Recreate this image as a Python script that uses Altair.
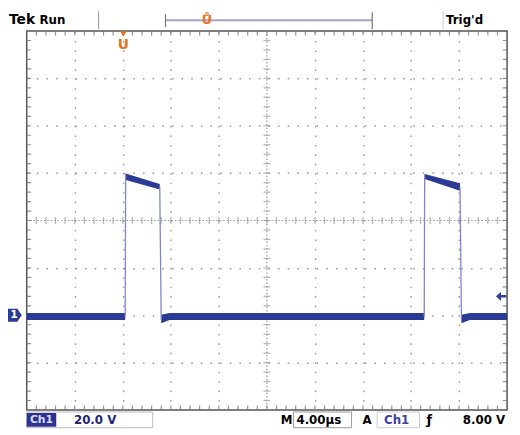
import altair as alt
import pandas as pd

# ---- waveform data (time in µs, volts; ground = 0 V, 4 µs/div, 20 V/div) ----
band_seg = ["b1", "b1", "p1", "p1", "b2", "b2", "b2", "p2", "p2", "b3", "b3", "b3"]
band_t   = [0.0, 8.20, 8.24, 11.08, 11.20, 11.9, 33.10, 33.14, 36.08, 36.20, 36.9, 40.0]
band_hi  = [1.0, 1.0, 59.8, 55.4, 0.2, 1.0, 1.0, 59.6, 55.7, 0.2, 1.0, 1.0]
band_lo  = [-2.0, -2.0, 57.1, 53.1, -3.4, -2.0, -2.0, 57.5, 52.6, -3.4, -2.0, -2.0]

edge_id = ["r1", "r1", "f1", "f1", "r2", "r2", "f2", "f2"]
edge_t  = [8.20, 8.24, 11.08, 11.20, 33.10, 33.14, 36.08, 36.20]
edge_v  = [-0.5, 59.5, 54.0, -2.0, -0.5, 59.5, 54.0, -2.0]

# graticule
major_t = [4, 8, 12, 16, 24, 28, 32, 36]
major_v = [-20, 0, 20, 60, 80, 100]
minor_t = [round(i * 0.8, 2) for i in range(1, 50)]
minor_v = [round(-40 + i * 4, 2) for i in range(1, 40)]
center_t = 20
center_v = 40
trig_level = 8.0
trig_time = 8.05

W, H = 488, 385
X0, Y0 = 27, 28  # page position of plot origin

xs = alt.Scale(domain=[0, 40], nice=False, zero=False)
ys = alt.Scale(domain=[-40, 120], nice=False, zero=False)

TRACE = "#2b3a94"
EDGE = "#7d86c8"
GRID = "#9a9a9a"
ORANGE = "#e8741e"
FONT = "DejaVu Sans"

band = pd.DataFrame({"seg": band_seg, "t": band_t, "hi": band_hi, "lo": band_lo})
edges = pd.DataFrame({"id": edge_id, "t": edge_t, "v": edge_v})

base_grid = alt.Chart(pd.DataFrame({"t": [0], "v": [0]})).mark_point(opacity=0).encode(
    x=alt.X("t:Q", scale=xs, axis=alt.Axis(values=major_t, grid=True, gridColor=GRID,
                                          gridDash=[1.6, 8.0], gridWidth=1.4, labels=False,
                                          ticks=False, domain=False, title=None)),
    y=alt.Y("v:Q", scale=ys, axis=alt.Axis(values=major_v, grid=True, gridColor=GRID,
                                          gridDash=[1.6, 8.2], gridWidth=1.4, labels=False,
                                          ticks=False, domain=False, title=None)),
)

center_x = alt.Chart(pd.DataFrame({"t": [center_t]})).mark_rule(
    color=GRID, strokeDash=[1.5, 2.0], strokeWidth=1.2).encode(x="t:Q")
center_y = alt.Chart(pd.DataFrame({"v": [center_v]})).mark_rule(
    color=GRID, strokeDash=[1.5, 2.0], strokeWidth=1.2).encode(y="v:Q")

ticks_h = alt.Chart(pd.DataFrame({"t": minor_t, "v": [center_v] * len(minor_t)})).mark_tick(
    orient="vertical", color=GRID, thickness=1.3, size=7).encode(x="t:Q", y="v:Q")
ticks_v = alt.Chart(pd.DataFrame({"t": [center_t] * len(minor_v), "v": minor_v})).mark_tick(
    orient="horizontal", color=GRID, thickness=1.3, size=7).encode(x="t:Q", y="v:Q")

bt = pd.DataFrame({"t": minor_t * 2, "v": [120] * len(minor_t) + [-40] * len(minor_t)})
bv = pd.DataFrame({"t": [0] * len(minor_v) + [40] * len(minor_v), "v": minor_v * 2})
border_t = alt.Chart(bt).mark_tick(orient="vertical", color="#666", thickness=1.2, size=9,
                                    clip=True).encode(x="t:Q", y="v:Q")
border_v = alt.Chart(bv).mark_tick(orient="horizontal", color="#666", thickness=1.2, size=9,
                                    clip=True).encode(x="t:Q", y="v:Q")

trace = alt.Chart(band).mark_area(color=TRACE, opacity=1).encode(
    x="t:Q", y="hi:Q", y2="lo:Q", detail="seg:N")
edge_lines = alt.Chart(edges).mark_line(color=EDGE, strokeWidth=1.3).encode(
    x="t:Q", y="v:Q", detail="id:N")

# trigger level marker (right edge)
trig_mark = alt.Chart(pd.DataFrame({"t": [39.5], "v": [trig_level]})).mark_point(
    shape="M-1,0 L0,-0.9 L0,-0.25 L1,-0.25 L1,0.25 L0,0.25 L0,0.9 Z",
    filled=True, color="#3040a0", size=110, opacity=1).encode(x="t:Q", y="v:Q")

# ground marker (left)
gnd_shape = alt.Chart(pd.DataFrame({"v": [0]})).mark_point(
    shape="M-1,-0.95 L0.35,-0.95 L1,0 L0.35,0.95 L-1,0.95 Z", filled=True, color=TRACE,
    size=196, opacity=1).encode(x=alt.value(15 - X0), y="v:Q")
gnd_text = alt.Chart(pd.DataFrame({"v": [0], "s": ["1"]})).mark_text(
    color="white", fontSize=11, fontWeight="bold", font=FONT).encode(
    x=alt.value(14 - X0), y="v:Q", text="s:N")

# trigger position marker (top of graticule)
trigpos_tri = alt.Chart(pd.DataFrame({"t": [trig_time]})).mark_point(
    shape="triangle-down", filled=True, color=ORANGE, size=40, opacity=1).encode(
    x="t:Q", y=alt.value(3))
trigpos_u = alt.Chart(pd.DataFrame({"t": [trig_time], "s": ["U"]})).mark_text(
    color=ORANGE, fontSize=14, fontWeight="bold", font=FONT).encode(
    x="t:Q", y=alt.value(14), text="s:N")


def label(txt, px, py, size=12, color="black", align="left", weight="bold"):
    return alt.Chart(pd.DataFrame({"s": [txt]})).mark_text(
        align=align, baseline="middle", fontSize=size, fontWeight=weight, color=color,
        font=FONT).encode(x=alt.value(px - X0), y=alt.value(py - Y0), text="s:N")


def prule(x1, y1, x2, y2, color="#888", width=1.0):
    return alt.Chart(pd.DataFrame({"a": [0]})).mark_rule(color=color, strokeWidth=width).encode(
        x=alt.value(x1 - X0), x2=alt.value(x2 - X0), y=alt.value(y1 - Y0), y2=alt.value(y2 - Y0))


def prect(x1, y1, x2, y2, fill=None, stroke=None):
    kw = {}
    if fill is not None:
        kw["fill"] = fill
    else:
        kw["fillOpacity"] = 0
    if stroke is not None:
        kw["stroke"] = stroke
        kw["strokeWidth"] = 1
    return alt.Chart(pd.DataFrame({"a": [0]})).mark_rect(**kw).encode(
        x=alt.value(x1 - X0), x2=alt.value(x2 - X0), y=alt.value(y1 - Y0), y2=alt.value(y2 - Y0))


top_bar = [
    label("Tek", 9, 17, size=14, weight=900),
    label("Run", 40, 17, size=12),
    prule(100, 8, 100, 26, "#999"),
    prule(168, 17, 378, 17, "#a3a3cc", 2),
    prule(168, 11, 168, 24, "#777", 1.2),
    prule(378, 9, 378, 26, "#777", 1.2),
    prule(450, 8, 450, 26, "#ccc"),
    label("Ů", 210, 17, size=13, color=ORANGE, align="center"),
    label("Trig'd", 453, 17, size=12),
]

bottom_bar = [
    prect(27, 415, 155, 431, stroke="#bbb"),
    prect(27, 416, 57, 430, fill="#2d3190"),
    label("Ch1", 42, 423, size=11, color="#d8dcff", align="center"),
    label("20.0 V", 75, 423, size=12, color="#1e2470"),
    label("M", 285, 423, size=12),
    prect(298, 415, 357, 431, stroke="#999"),
    label("4.00µs", 301, 423, size=12),
    label("A", 368, 423, size=12),
    prect(383, 415, 426, 431, stroke="#ccc"),
    label("Ch1", 390, 423, size=12, color="#3a3fa0"),
    label("ƒ", 436, 423, size=13, align="center"),
    label("8.00 V", 470, 423, size=12),
]

chart = alt.layer(
    base_grid, center_x, center_y, ticks_h, ticks_v, border_t, border_v,
    trace, edge_lines, trig_mark, gnd_shape, gnd_text, trigpos_tri, trigpos_u,
    *top_bar, *bottom_bar,
).properties(
    width=W, height=H,
    autosize=alt.AutoSizeParams(type="none"),
    padding={"left": 19, "top": 20, "right": 5, "bottom": 22},
    background="white",
).configure_view(stroke="#555", strokeWidth=1.5)

chart.save("out.html", embed_options={"renderer": "svg", "actions": False})
